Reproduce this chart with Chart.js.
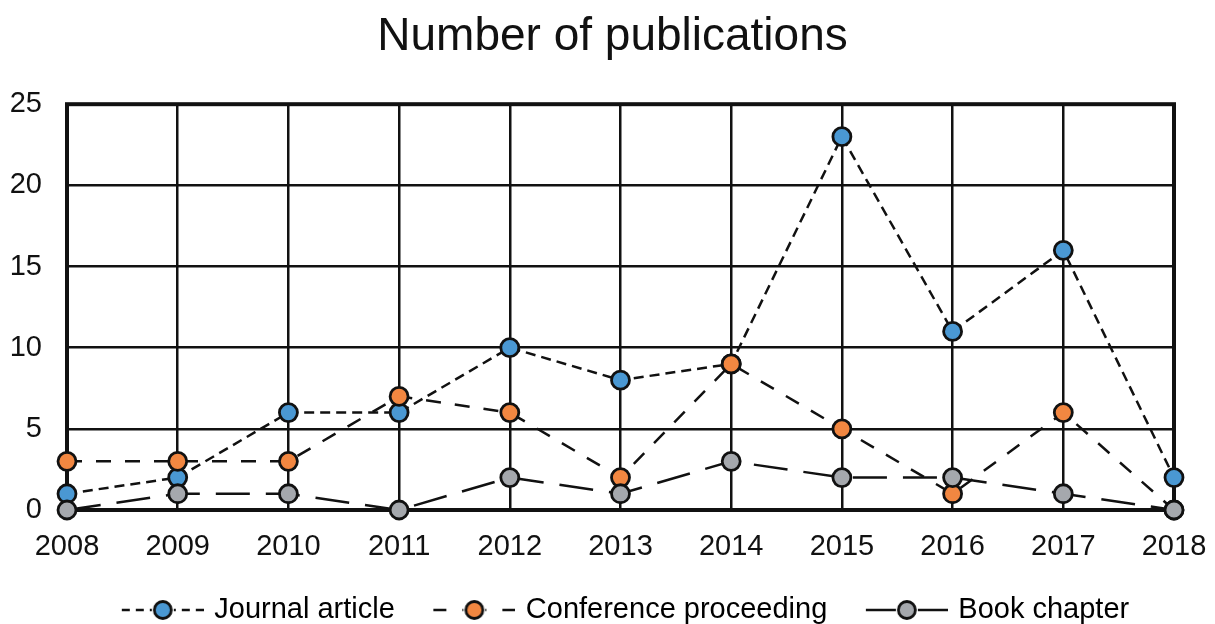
<!DOCTYPE html>
<html>
<head>
<meta charset="utf-8">
<script src="https://cdn.jsdelivr.net/npm/chart.js@4.4.1/dist/chart.umd.min.js"></script>
<style>
  html, body { margin: 0; padding: 0; background: #fff; }
  #wrap { width: 1215px; height: 624px; }
</style>
</head>
<body>
<div id="wrap"><canvas id="pubChart" width="1215" height="624"></canvas></div>
<script>
const years = ['2008', '2009', '2010', '2011', '2012', '2013', '2014', '2015', '2016', '2017', '2018'];
const journalArticles = [1, 2, 6, 6, 10, 8, 9, 23, 11, 16, 2];
const conferenceProceedings = [3, 3, 3, 7, 6, 2, 9, 5, 1, 6, 0];
const bookChapters = [0, 1, 1, 0, 2, 1, 3, 2, 2, 1, 0];
const yTicks = [0, 5, 10, 15, 20, 25];

const FONT = "'Liberation Sans', Arial, sans-serif";

// legend symbol: blank gap on the left, then line + dot + line
function legendIcon(color, dash) {
    const c = document.createElement('canvas');
    c.width = 112; c.height = 24;
    const g = c.getContext('2d');
    const x0 = 30;
    g.strokeStyle = '#111';
    g.lineWidth = 2.5;
    g.setLineDash(dash);
    g.beginPath(); g.moveTo(x0, 12); g.lineTo(x0 + 30, 12); g.stroke();
    g.beginPath(); g.moveTo(x0 + 82, 12); g.lineTo(x0 + 52, 12); g.stroke();
    g.setLineDash([]);
    g.beginPath(); g.arc(x0 + 41, 12, 8.5, 0, Math.PI * 2);
    g.fillStyle = color; g.fill();
    g.lineWidth = 2.8; g.stroke();
    return c;
}

const series = [
    { label: 'Journal article', data: journalArticles, color: '#4a98d3', dash: [10, 6], legendDash: [8, 6], order: 2 },
    { label: 'Conference proceeding', data: conferenceProceedings, color: '#f28741', dash: [15, 14], legendDash: [13, 16], order: 1 },
    { label: 'Book chapter', data: bookChapters, color: '#a5a8ad', dash: [34, 16], legendDash: [], order: 0 }
];

// frame around the plot area
const framePlugin = {
    id: 'frame',
    beforeDatasetsDraw(chart) {
        const a = chart.chartArea, ctx = chart.ctx;
        ctx.save();
        ctx.strokeStyle = '#111';
        ctx.lineWidth = 4;
        ctx.strokeRect(a.left, a.top, a.right - a.left, a.bottom - a.top);
        ctx.restore();
    }
};

new Chart(document.getElementById('pubChart'), {
    type: 'line',
    data: {
        labels: years,
        datasets: series.map(s => ({
            label: s.label,
            data: s.data,
            order: s.order,
            borderColor: '#111',
            borderWidth: 2.5,
            borderDash: s.dash,
            backgroundColor: s.color,
            pointStyle: 'circle',
            pointBackgroundColor: s.color,
            pointBorderColor: '#111',
            pointBorderWidth: 2.8,
            pointRadius: 9,
            tension: 0,
            fill: false,
            clip: false
        }))
    },
    options: {
        responsive: false,
        animation: false,
        layout: { padding: { left: 10, right: 0, top: 0, bottom: -10.5 } },
        plugins: {
            title: {
                display: true,
                text: 'Number of publications',
                color: '#111',
                font: { family: FONT, size: 46, weight: 'normal' },
                padding: { top: 10, bottom: 39 }
            },
            legend: {
                position: 'bottom',
                labels: {
                    usePointStyle: true,
                    pointStyleWidth: 104,
                    boxHeight: 24,
                    padding: 12.5,
                    color: '#111',
                    font: { family: FONT, size: 29 },
                    generateLabels() {
                        return series.map((s, i) => ({
                            text: s.label,
                            pointStyle: legendIcon(s.color, s.legendDash),
                            fillStyle: s.color,
                            strokeStyle: '#111',
                            lineWidth: 0,
                            hidden: false,
                            datasetIndex: i
                        }));
                    }
                }
            },
            tooltip: { enabled: false }
        },
        scales: {
            x: {
                offset: false,
                grid: { color: '#111', lineWidth: 2.5, drawTicks: false },
                border: { display: false },
                ticks: { color: '#111', padding: 20, maxRotation: 0, font: { family: FONT, size: 29 } },
                afterFit(axis) {
                    axis.height = 73;
                    axis.paddingLeft = 0;
                    axis.paddingRight = 41;
                }
            },
            y: {
                min: 0,
                max: 25,
                afterBuildTicks(axis) { axis.ticks = yTicks.map(v => ({ value: v })); },
                grid: { color: '#111', lineWidth: 2.5, drawTicks: false },
                border: { display: false },
                ticks: { color: '#111', padding: 25, font: { family: FONT, size: 29 } },
                afterFit(axis) {
                    axis.width = 57;
                    axis.paddingTop = 0;
                    axis.paddingBottom = 0;
                }
            }
        }
    },
    plugins: [framePlugin]
});
</script>
</body>
</html>
